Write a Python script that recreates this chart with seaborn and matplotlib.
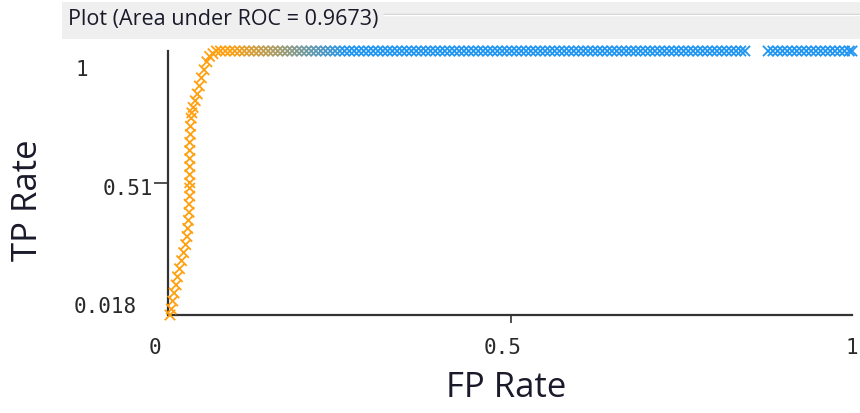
import matplotlib
matplotlib.use("Agg")
import matplotlib.pyplot as plt
from matplotlib.colors import LinearSegmentedColormap
from matplotlib.patches import Rectangle
from matplotlib.lines import Line2D
import pandas as pd
import seaborn as sns

# ROC curve points (false positive rate, true positive rate)
fp_rate = [
    0.000, 0.002, 0.004, 0.006, 0.009, 0.011, 0.014, 0.017, 0.020, 0.023,
    0.025, 0.026, 0.027, 0.028, 0.028, 0.029, 0.029, 0.029, 0.029, 0.029,
    0.029, 0.029, 0.029, 0.030, 0.030, 0.031, 0.032, 0.034, 0.037, 0.040,
    0.043, 0.046, 0.050, 0.054, 0.058, 0.063, 0.068,
    0.074, 0.081, 0.088, 0.095, 0.102, 0.109, 0.116, 0.123, 0.130, 0.137,
    0.144, 0.151, 0.158, 0.165, 0.172, 0.179, 0.186, 0.193, 0.200, 0.207,
    0.214, 0.221, 0.228, 0.235, 0.242, 0.249, 0.256, 0.263, 0.270, 0.277,
    0.284, 0.291, 0.298, 0.305, 0.312, 0.319, 0.326, 0.333, 0.340, 0.347,
    0.354, 0.361, 0.368, 0.375, 0.382, 0.389, 0.396, 0.403, 0.410, 0.417,
    0.424, 0.431, 0.438, 0.445, 0.452, 0.459, 0.466, 0.473, 0.480, 0.487,
    0.494, 0.501, 0.508, 0.515, 0.522, 0.529, 0.536, 0.543, 0.550, 0.557,
    0.564, 0.571, 0.578, 0.585, 0.592, 0.599, 0.606, 0.613, 0.620, 0.627,
    0.634, 0.641, 0.648, 0.655, 0.662, 0.669, 0.676, 0.683, 0.690, 0.697,
    0.704, 0.711, 0.718, 0.725, 0.732, 0.739, 0.746, 0.753, 0.760, 0.767,
    0.774, 0.781, 0.788, 0.795, 0.802, 0.809, 0.816, 0.823, 0.830, 0.837,
    0.843,
    0.877, 0.884, 0.891, 0.898, 0.905, 0.912, 0.919, 0.926, 0.933, 0.940,
    0.947, 0.954, 0.961, 0.968, 0.975, 0.982, 0.989, 0.996, 1.000,
]
tp_rate = [
    0.018, 0.040, 0.070, 0.100, 0.130, 0.160, 0.190, 0.220, 0.250, 0.280,
    0.310, 0.340, 0.370, 0.400, 0.430, 0.460, 0.490, 0.510, 0.540, 0.570,
    0.600, 0.630, 0.660, 0.690, 0.720, 0.750, 0.770, 0.790, 0.815, 0.840,
    0.870, 0.900, 0.930, 0.960, 0.980, 0.990, 1.000,
] + [1.000] * 111 + [1.000] * 19

x_ticks = [0.5]
x_tick_labels = ["0", "0.5", "1"]
y_ticks = [0.51]
y_tick_labels = ["1", "0.51", "0.018"]
title_text = "Plot (Area under ROC = 0.9673)"

roc = pd.DataFrame({"FP Rate": fp_rate, "TP Rate": tp_rate})

fig = plt.figure(figsize=(8.6, 4.14), dpi=100)
W, H = 860, 414

# title strip
fig.patches.append(Rectangle((62 / W, 1 - 40 / H), 1 - 62 / W, 37 / H,
                             transform=fig.transFigure, facecolor="#efefef",
                             edgecolor="none", zorder=0))
fig.lines.append(Line2D([384 / W, 1.0], [1 - 15 / H, 1 - 15 / H],
                        transform=fig.transFigure, color="#cfcfcf", lw=1))
fig.lines.append(Line2D([384 / W, 1.0], [1 - 16 / H, 1 - 16 / H],
                        transform=fig.transFigure, color="#ffffff", lw=1))
fig.text(68 / W, 1 - 20 / H, title_text, family="Open Sans", fontsize=15.5,
         color="#1a1a2a", va="center", ha="left")

ax = fig.add_axes([170 / W, 1 - 316 / H, 682 / W, 264 / H])
cmap = LinearSegmentedColormap.from_list("thr", ["#ffa010", "#2196f0"])
sns.scatterplot(data=roc, x="FP Rate", y="TP Rate", hue="FP Rate",
                palette=cmap, hue_norm=(0.09, 0.26), marker="x", s=55,
                linewidth=1.3, legend=False, ax=ax, clip_on=False, zorder=3)

ax.set_xlim(0.0, 1.0)
ax.set_ylim(0.018, 1.0)
ax.set_facecolor("none")
for side in ("top", "right"):
    ax.spines[side].set_visible(False)
for side in ("left", "bottom"):
    ax.spines[side].set_color("#333333")
    ax.spines[side].set_linewidth(1.6)
ax.spines["left"].set_position(("data", -0.003))
ax.set_xticks(x_ticks)
ax.set_yticks(y_ticks)
ax.set_xticklabels([])
ax.set_yticklabels([])
ax.tick_params(axis="x", direction="out", length=6, width=1.2, color="#333333")
ax.tick_params(axis="y", direction="out", length=10, width=1.2, color="#333333")
ax.set_xlabel("")
ax.set_ylabel("")

mono = dict(family="DejaVu Sans Mono", fontsize=15, color="#2a2a2a")
# x tick labels
for xv, lab in zip([-0.022, 0.487, 1.0], x_tick_labels):
    ax.text(xv, -0.10, lab, transform=ax.transData, ha="center", va="center",
            **mono)
# y tick labels
for (xx, yy, ha), lab in zip([(76, 70, "left"), (153, 189, "right"),
                              (74, 307, "left")], y_tick_labels):
    fig.text(xx / W, 1 - yy / H, lab, ha=ha, va="center", **mono)

fig.text(506 / W, 1 - 388 / H, "FP Rate", family="Open Sans", fontsize=25,
         color="#1a1a2a", ha="center", va="center")
fig.text(28 / W, 1 - 200 / H, "TP Rate", family="Open Sans", fontsize=25,
         color="#1a1a2a", ha="center", va="center", rotation=90)

fig.savefig("out.png", dpi=100)
